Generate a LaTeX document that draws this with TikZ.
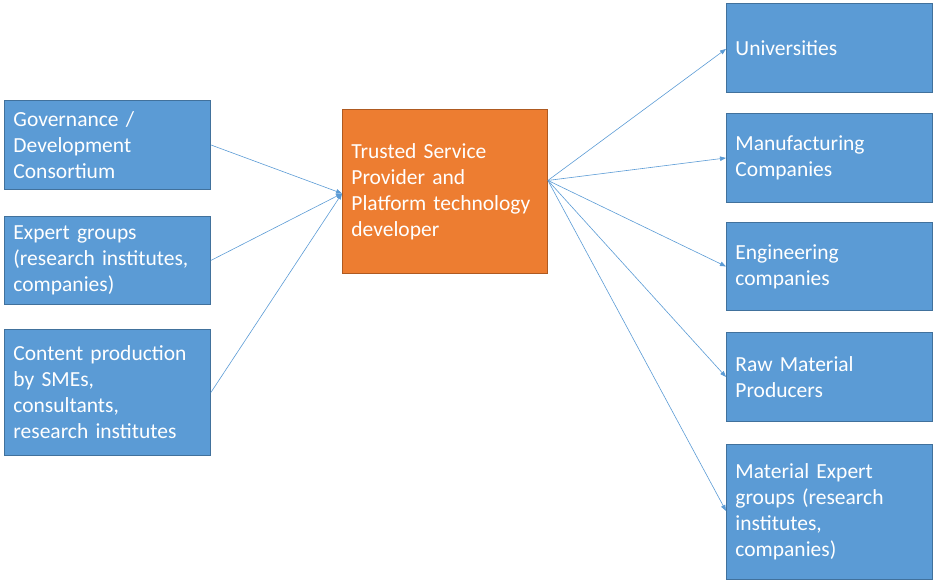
\documentclass[tikz,border=0pt]{standalone}
\usepackage{fontspec}
\setmainfont{Carlito}
\usetikzlibrary{arrows.meta}
\definecolor{boxblue}{HTML}{5B9BD5}
\definecolor{boxblueline}{HTML}{41719C}
\definecolor{boxorange}{HTML}{ED7D31}
\definecolor{boxorangeline}{HTML}{AE5A21}
\definecolor{arrowblue}{HTML}{5B9BD5}
\newcommand{\boxfont}{\fontsize{21.5}{26}\selectfont\spaceskip=0.17em\relax}
\tikzset{
  box/.style={rectangle, anchor=north west, draw=boxblueline, fill=boxblue, line width=0.9pt,
    text=white, inner xsep=9pt, inner ysep=0pt, align=left, font=\boxfont},
  bluebox/.style={box, minimum width=206pt, text width=188pt},
  orangebox/.style={box, fill=boxorange, draw=boxorangeline, minimum width=205pt, text width=187pt},
  conn/.style={draw=arrowblue, line width=0.6pt, -{Triangle[length=6pt,width=4.5pt]}}
}
\begin{document}
\begin{tikzpicture}[x=1pt,y=-1pt]
\useasboundingbox (0,0) rectangle (934,580);
% left boxes
\node[bluebox, minimum height=89pt] (gov) at (4,100) {Governance /\\Development\\Consortium};
\node[bluebox, minimum height=88pt] (exp) at (4,216) {Expert groups\\(research institutes,\\companies)};
\node[bluebox, minimum height=126pt] (cont) at (4,329) {Content production\\by SMEs,\\consultants,\\research institutes};
% center
\node[orangebox, minimum height=164pt] (tsp) at (342,109) {Trusted Service\\Provider and\\Platform technology\\developer};
% right boxes
\node[bluebox, minimum height=89pt] (uni) at (726,3) {Universities};
\node[bluebox, minimum height=89pt] (man) at (726,113) {Manufacturing\\Companies};
\node[bluebox, minimum height=88pt] (eng) at (726,222) {Engineering\\companies};
\node[bluebox, minimum height=89pt] (raw) at (726,332) {Raw Material\\Producers};
\node[bluebox, minimum height=135pt] (mat) at (726,444) {Material Expert\\groups (research\\institutes,\\companies)};
% connectors
\draw[conn] (gov.east) -- ([yshift=-2pt]tsp.west);
\draw[conn] (exp.east) -- ([yshift=-2pt]tsp.west);
\draw[conn] (cont.east) -- ([yshift=-2pt]tsp.west);
\coordinate (src) at ([yshift=11pt]tsp.east);
\draw[conn] (src) -- ([yshift=-1pt]uni.west);
\draw[conn] (src) -- (man.west);
\draw[conn] (src) -- (eng.west);
\draw[conn] (src) -- (raw.west);
\draw[conn] (src) -- ([yshift=1pt]mat.west);
\end{tikzpicture}
\end{document}
